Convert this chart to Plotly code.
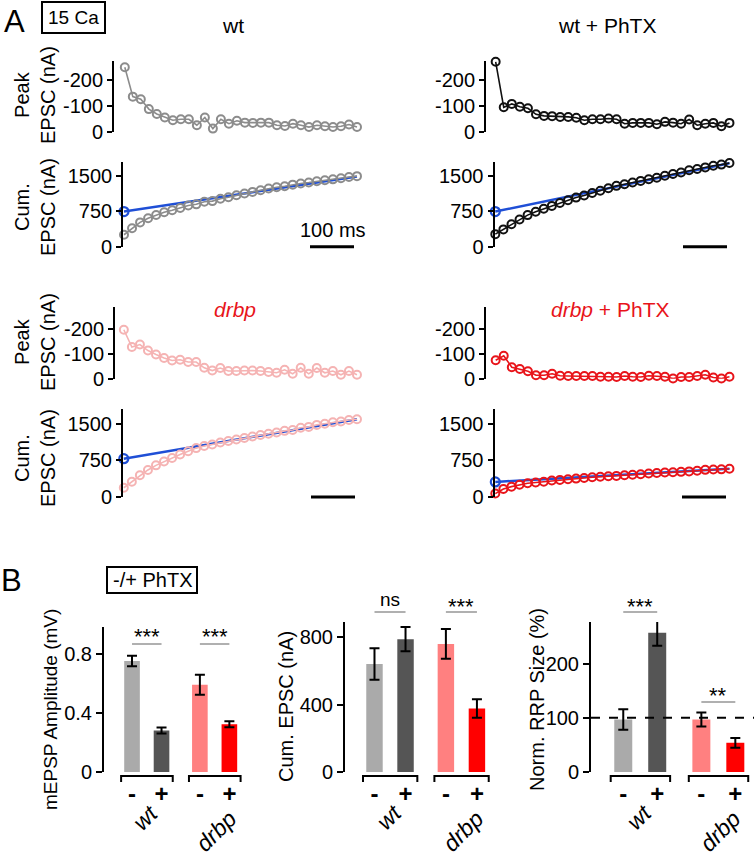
import plotly.graph_objects as go

W, H = 754, 858
FONT = "Liberation Sans, Arial, sans-serif"


def px(x):
    return x / W


def py(y):
    return 1 - y / H


# ---------------- Panel A data (stimulus index 0..29) ----------------
stim = list(range(30))

wt_peak = [-249, -136, -126, -88, -69, -56, -45, -49, -49, -26, -56, -13, -49, -32, -43,
           -36, -35, -36, -36, -26, -23, -32, -26, -19, -26, -22, -19, -22, -29, -19]
wt_cum = [249, 385, 511, 599, 668, 724, 769, 818, 867, 893, 949, 962, 1011, 1043, 1086,
          1122, 1157, 1193, 1229, 1255, 1278, 1310, 1336, 1355, 1381, 1403, 1422, 1444, 1473, 1490]

wt_phtx_peak = [-270, -95, -108, -97, -91, -68, -62, -61, -58, -58, -55, -45, -49, -49, -52,
                -49, -32, -35, -35, -35, -30, -39, -36, -32, -48, -26, -32, -35, -22, -35]
wt_phtx_cum = [262, 362, 472, 572, 665, 735, 798, 860, 920, 980, 1036, 1082, 1132, 1182, 1235,
               1285, 1318, 1354, 1390, 1426, 1457, 1497, 1534, 1567, 1616, 1643, 1676, 1712, 1735, 1770]

drbp_peak = [-196, -127, -137, -113, -97, -83, -73, -76, -67, -67, -44, -33, -43, -31, -31,
             -33, -33, -31, -27, -24, -36, -20, -44, -20, -43, -24, -31, -16, -31, -16]
drbp_cum = [189, 312, 444, 553, 647, 727, 797, 870, 935, 1000, 1042, 1074, 1116, 1145, 1175,
            1207, 1239, 1269, 1295, 1318, 1353, 1372, 1415, 1434, 1475, 1499, 1529, 1544, 1574, 1589]

drbp_phtx_peak = [-74, -92, -46, -39, -30, -14, -14, -20, -12, -11, -11, -11, -11, -8, -8,
                  -7, -11, -8, -7, -12, -11, -8, -1, -7, -7, -11, -16, -5, -1, -8]
drbp_phtx_cum = [70, 164, 212, 251, 281, 297, 313, 336, 350, 363, 376, 389, 403, 413, 423,
                 432, 445, 455, 465, 479, 492, 502, 505, 514, 524, 537, 555, 562, 565, 578]

fit_x = [0, 29]
wt_fit = [740, 1480]
wt_phtx_fit = [740, 1765]
drbp_fit = [784, 1590]
drbp_phtx_fit = [308, 580]

# ---------------- Panel B data ----------------
groups = ["wt", "drbp"]
conditions = ["-", "+", "-", "+"]
mepsp = [0.75, 0.28, 0.59, 0.323]
mepsp_err = [0.036, 0.02, 0.068, 0.02]
cum_epsc = [641, 788, 760, 377]
cum_epsc_err = [93, 72, 88, 55]
rrp = [97, 257, 97, 54]
rrp_err = [19, 24, 13, 9]

GRAY = "#8c8c8c"
BLACK = "#111111"
PINK = "#f5b3b3"
RED = "#e8141a"
BLUE = "#1f4fd6"
BAR_COLORS = ["#aaaaaa", "#555555", "#ff8080", "#ff0000"]

bar_pos = [0, 1, 2.3, 3.3]

fig = go.Figure()
layout = dict(
    template="none",
    width=W, height=H, margin=dict(l=0, r=0, t=0, b=0, pad=0), autosize=False,
    paper_bgcolor="white", plot_bgcolor="white", showlegend=False,
    font=dict(family=FONT, color="black"),
)

yax_common = dict(showline=True, linecolor="black", linewidth=2, ticks="outside",
                  ticklen=5, tickwidth=2, tickcolor="black", showgrid=False, automargin=False,
                  zeroline=False, tickfont=dict(size=20, family=FONT, color="black"))

# A panel specs: idx, values, color, kind, xdom(px), ydom(px top,bottom), xrange, yrange, fit
A_specs = [
    (1, wt_peak, GRAY, "peak", (114, 361), (61, 132), [-1.35, 29.5], [0, -273], None),
    (2, wt_cum, GRAY, "cum", (123.2, 361), (162, 246.5), [-0.1, 29.5], [0, 1790], wt_fit),
    (3, wt_phtx_peak, BLACK, "peak", (486, 733.5), (61, 132), [-1.2, 29.5], [0, -273], None),
    (4, wt_phtx_cum, BLACK, "cum", (494.5, 733.5), (162, 246.5), [-0.1, 29.5], [0, 1790], wt_phtx_fit),
    (5, drbp_peak, PINK, "peak", (115, 361), (306.5, 378.8), [-1.1, 29.5], [0, -289], None),
    (6, drbp_cum, PINK, "cum", (123, 361), (408.5, 497), [-0.1, 29.5], [0, 1810], drbp_fit),
    (7, drbp_phtx_peak, RED, "peak", (486, 733.5), (306.5, 378.8), [-1.2, 29.5], [0, -289], None),
    (8, drbp_phtx_cum, RED, "cum", (494.5, 733.5), (408.5, 497), [-0.1, 29.5], [0, 1810], drbp_phtx_fit),
]

for idx, vals, col, kind, xd, yd, xr, yr, fit in A_specs:
    xa = "x" if idx == 1 else f"x{idx}"
    ya = "y" if idx == 1 else f"y{idx}"
    if fit is not None:
        fig.add_trace(go.Scatter(x=fit_x, y=fit, mode="lines", line=dict(color=BLUE, width=2.5),
                                 xaxis=xa, yaxis=ya, cliponaxis=False, hoverinfo="skip"))
    fig.add_trace(go.Scatter(x=stim, y=vals, mode="lines+markers",
                             line=dict(color=col, width=1.6),
                             marker=dict(symbol="circle-open", size=8, color=col, line=dict(width=2)),
                             xaxis=xa, yaxis=ya, cliponaxis=False))
    if fit is not None:
        fig.add_trace(go.Scatter(x=fit_x[:1], y=fit[:1], mode="markers",
                                 marker=dict(symbol="circle-open", size=9, color=BLUE, line=dict(width=2.2)),
                                 xaxis=xa, yaxis=ya, cliponaxis=False))
    key = "" if idx == 1 else str(idx)
    layout["xaxis" + key] = dict(domain=[px(xd[0]), px(xd[1])], range=xr, visible=False,
                                 anchor=ya, automargin=False)
    if kind == "peak":
        tv, tt = [-200, -100, 0], ["-200", "-100", "0"]
    else:
        tv, tt = [0, 750, 1500], ["0", "750", "1500"]
    layout["yaxis" + key] = dict(yax_common, domain=[py(yd[1]), py(yd[0])], range=yr,
                                 tickvals=tv, ticktext=tt, anchor=xa)

# ---------------- Panel B ----------------
B_specs = [
    (9, mepsp, mepsp_err, (104, 245.6), 627, [0, 0.98], [0, 0.4, 0.8], ["0", "0.4", "0.8"]),
    (10, cum_epsc, cum_epsc_err, (345, 494), 622, [0, 890], [0, 400, 800], ["0", "400", "800"]),
    (11, rrp, rrp_err, (591, 754), 622, [0, 277], [0, 100, 200], ["0", "100", "200"]),
]
B_bottom = 772
for idx, vals, errs, xd, ytop, yr, tv, tt in B_specs:
    xa, ya = f"x{idx}", f"y{idx}"
    fig.add_trace(go.Bar(x=bar_pos, y=vals, width=0.53, marker=dict(color=BAR_COLORS, line=dict(width=0)),
                         error_y=dict(type="data", array=errs, color="black", thickness=2, width=5),
                         xaxis=xa, yaxis=ya))
    layout[f"xaxis{idx}"] = dict(domain=[px(xd[0]), px(xd[1])], range=[-0.95, 3.85], anchor=ya,
                                 showline=False, showgrid=False, zeroline=False, ticks="",
                                 automargin=False,
                                 tickvals=bar_pos, ticktext=conditions, ticklabelstandoff=5,
                                 tickfont=dict(size=24, family=FONT, color="black", weight="bold"))
    layout[f"yaxis{idx}"] = dict(yax_common, domain=[py(B_bottom), py(ytop)], range=yr,
                                 tickvals=tv, ticktext=tt, anchor=xa, ticklen=6)

shapes = []
annotations = []

# scale bars
for (x0, x1, y) in [(310, 354, 246.7), (683, 727, 246.7), (311, 355, 497), (682, 726, 497)]:
    shapes.append(dict(type="line", xref="paper", yref="paper", x0=px(x0), x1=px(x1),
                       y0=py(y), y1=py(y), line=dict(color="black", width=3)))

# boxes
for (x0, x1, y0, y1) in [(42, 105, 2, 33), (107, 197, 567, 593)]:
    shapes.append(dict(type="rect", xref="paper", yref="paper", x0=px(x0), x1=px(x1),
                       y0=py(y1), y1=py(y0), line=dict(color="black", width=2)))

# dashed 100% line
shapes.append(dict(type="line", xref="x11 domain", yref="y11", x0=0, x1=1, y0=100, y1=100,
                   line=dict(color="black", width=2, dash="dash")))

# brackets under bar groups and significance lines
sig_specs = {
    9: [(0, 1, "***", 644, 636), (2.3, 3.3, "***", 644, 636)],
    10: [(0, 1, "ns", 612, 599), (2.3, 3.3, "***", 612, 606)],
    11: [(0, 1, "***", 612, 606), (2.3, 3.3, "**", 702, 695)],
}
label_pos = {"wt": (0.47, 817), "drbp": (2.85, 831)}
for idx in (9, 10, 11):
    xa = f"x{idx}"
    for g, (a, b) in enumerate([(bar_pos[0], bar_pos[1]), (bar_pos[2], bar_pos[3])]):
        x0, x1 = a - 0.37, b + 0.38
        shapes.append(dict(type="path", xref=xa, yref="paper",
                           path=f"M {x0},{py(782)} L {x0},{py(776)} L {x1},{py(776)} L {x1},{py(782)}",
                           line=dict(color="black", width=2)))
        name = groups[g]
        lx, ly = label_pos[name]
        annotations.append(dict(x=lx, y=py(ly),
                                xref=xa, yref="paper", text=f"<i>{name}</i>", showarrow=False,
                                textangle=-45, font=dict(size=23, family=FONT, color="black"),
                                xanchor="center", yanchor="middle"))
    for a, b, txt, ly, ty in sig_specs[idx]:
        shapes.append(dict(type="line", xref=xa, yref="paper", x0=a, x1=b, y0=py(ly), y1=py(ly),
                           line=dict(color="#b0b0b0", width=2)))
        annotations.append(dict(x=(a + b) / 2, y=py(ty), xref=xa, yref="paper", text=txt,
                                showarrow=False,
                                font=dict(size=19 if txt == "ns" else 22, family=FONT, color="black"),
                                xanchor="center", yanchor="middle"))


def ann(x, y, text, size=20, color="black", angle=0):
    annotations.append(dict(x=px(x), y=py(y), xref="paper", yref="paper", text=text,
                            showarrow=False, textangle=angle,
                            font=dict(size=size, family=FONT, color=color),
                            xanchor="center", yanchor="middle"))


ann(14, 21, "A", size=31)
ann(11, 580, "B", size=31)
ann(73.5, 17.5, "15 Ca", size=19)
ann(152, 580, "-/+ PhTX", size=20)
ann(233, 26, "wt", size=21)
ann(607, 26, "wt + PhTX", size=21)
ann(235, 309, "<i>drbp</i>", size=21, color=RED)
ann(610, 309, "<i>drbp</i> + PhTX", size=21, color=RED)
ann(333, 230, "100 ms", size=20)
ann(35, 95, "Peak<br>EPSC (nA)", size=20, angle=-90)
ann(35, 207, "Cum.<br>EPSC (nA)", size=20, angle=-90)
ann(35, 342, "Peak<br>EPSC (nA)", size=20, angle=-90)
ann(35, 458, "Cum.<br>EPSC (nA)", size=20, angle=-90)
ann(50, 710, "mEPSP Amplitude (mV)", size=19, angle=-90)
ann(286, 707, "Cum. EPSC (nA)", size=20, angle=-90)
ann(537, 700, "Norm. RRP Size (%)", size=20, angle=-90)

layout["shapes"] = shapes
layout["annotations"] = annotations
fig.update_layout(**layout)
fig.write_html("out.html", config={"displayModeBar": False},
               post_script="document.body.style.margin='0';document.body.style.overflow='hidden';")
